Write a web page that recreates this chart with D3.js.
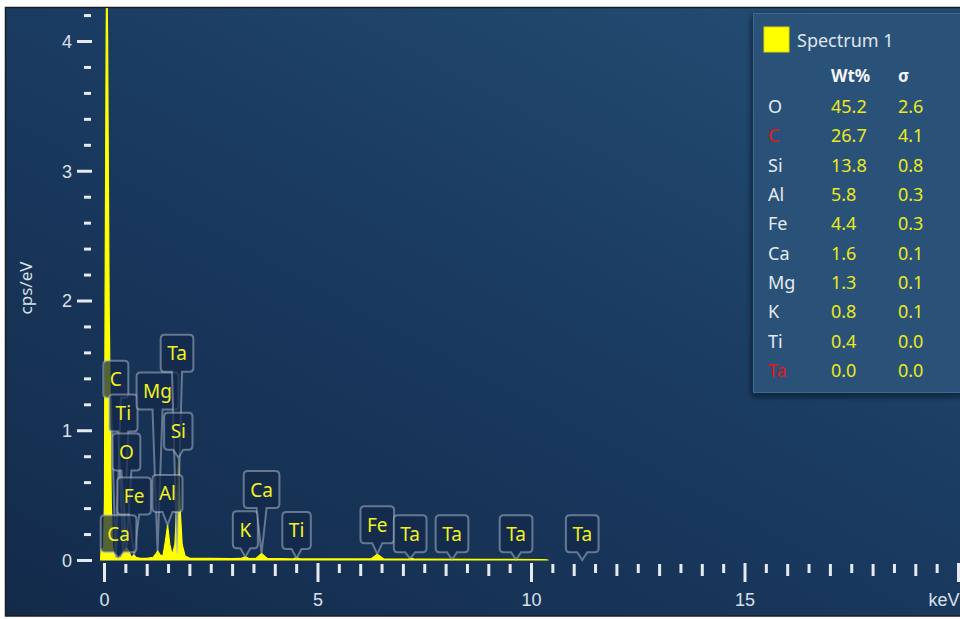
<!DOCTYPE html>
<html lang="en">
<head>
<meta charset="UTF-8">
<title>EDS Spectrum 1</title>
<script src="https://d3js.org/d3.v7.min.js"></script>
<style>
    body { margin: 0; background: #fff; }
    svg { display: block; font-family: "Noto Sans", "DejaVu Sans", sans-serif; }
    .tick line { stroke: #e4eaf0; stroke-width: 3; }
    .tick text { fill: #d9e1ea; font-size: 18px; }
    .tag text { fill: #f2f21e; font-size: 19px; }
</style>
</head>
<body>
<div id="chart"></div>
<script>
// spectrum trace, [keV, cps/eV]
const spectrum = [
    [-0.08, 0], [-0.07, 0.08], [-0.01, 0.09], [0.01, 0.45], [0.025, 2.0], [0.05, 4.0],
    [0.065, 4.6], [0.085, 4.0], [0.12, 2.0], [0.17, 0.45], [0.2, 0.1], [0.22, 0.07],
    [0.26, 0.02], [0.3, 0.015], [0.4, 0.02], [0.46, 0.06], [0.52, 0.095], [0.58, 0.07],
    [0.64, 0.02], [0.7, 0.04], [0.75, 0.02], [0.85, 0.012], [1.0, 0.012], [1.15, 0.02],
    [1.22, 0.05], [1.26, 0.07], [1.31, 0.04], [1.38, 0.03], [1.44, 0.15], [1.49, 0.27],
    [1.54, 0.12], [1.6, 0.04], [1.66, 0.12], [1.71, 0.45], [1.745, 0.78], [1.78, 0.42],
    [1.83, 0.12], [1.9, 0.03], [2.0, 0.015], [2.5, 0.012], [3.0, 0.01], [3.2, 0.012],
    [3.31, 0.025], [3.42, 0.01], [3.56, 0.012], [3.69, 0.05], [3.82, 0.012], [4.4, 0.008],
    [4.51, 0.016], [4.62, 0.008], [6.25, 0.008], [6.4, 0.045], [6.55, 0.008], [7.1, 0.006],
    [7.2, 0.012], [7.3, 0.006], [9.0, 0.005], [10.3, 0.003], [10.4, 0]
];

// peak labels
const tagNames = ["C", "Ti", "O", "Fe", "Ca", "Mg", "Ta", "Si", "Al", "K", "Ca", "Ti", "Fe", "Ta", "Ta", "Ta", "Ta"];
const tagKeV   = [0.277, 0.452, 0.525, 0.705, 0.341, 1.254, 1.71, 1.74, 1.487, 3.31, 3.69, 4.51, 6.40, 7.17, 8.15, 9.65, 11.2];
const tagPeak  = [0.02, 0.05, 0.09, 0.04, 0.02, 0.07, 0.05, 0.79, 0.27, 0.025, 0.05, 0.016, 0.045, 0.01, 0.004, 0.003, 0];
// where the label box sits (cps of its lower edge)
const tagLevel = [1.25, 0.99, 0.69, 0.35, 0.06, 1.16, 1.45, 0.85, 0.37, 0.09, 0.40, 0.085, 0.13, 0.06, 0.06, 0.06, 0.06];

// quant table
const elements = ["O", "C", "Si", "Al", "Fe", "Ca", "Mg", "K", "Ti", "Ta"];
const wtPct    = ["45.2", "26.7", "13.8", "5.8", "4.4", "1.6", "1.3", "0.8", "0.4", "0.0"];
const sigma    = ["2.6", "4.1", "0.8", "0.3", "0.3", "0.1", "0.1", "0.1", "0.0", "0.0"];
const flagged  = ["C", "Ta"];

const yMajor = [0, 1, 2, 3, 4];
const yMinor = [0.2, 0.4, 0.6, 0.8, 1.2, 1.4, 1.6, 1.8, 2.2, 2.4, 2.6, 2.8, 3.2, 3.4, 3.6, 3.8, 4.2];
const xMajor = [0, 5, 10, 15, 20];
const xMajorLabels = ["0", "5", "10", "15", "keV"];
const xInt  = [1, 2, 3, 4, 6, 7, 8, 9, 11, 12, 13, 14, 16, 17, 18, 19];
const xHalf = d3.range(0.5, 20, 1);

const W = 960, H = 619;
const svg = d3.select("#chart").append("svg").attr("width", W).attr("height", H);
const defs = svg.append("defs");

const bg = defs.append("linearGradient").attr("id", "bg")
    .attr("x1", 0).attr("y1", 1).attr("x2", 0.85).attr("y2", 0);
bg.append("stop").attr("offset", 0).attr("stop-color", "#132b4b");
bg.append("stop").attr("offset", 0.55).attr("stop-color", "#1a3a60");
bg.append("stop").attr("offset", 1).attr("stop-color", "#234c72");

defs.append("clipPath").attr("id", "plotClip")
    .append("rect").attr("x", 5).attr("y", 8).attr("width", 960).attr("height", 608);

const shadow = defs.append("filter").attr("id", "shadow")
    .attr("x", -0.1).attr("y", -0.1).attr("width", 1.3).attr("height", 1.3);
shadow.append("feDropShadow").attr("dx", -1).attr("dy", 3).attr("stdDeviation", 3)
    .attr("flood-color", "#050f1e").attr("flood-opacity", 0.7);

// frame
svg.append("rect").attr("x", 5.5).attr("y", 7.5).attr("width", 960).attr("height", 608.5)
    .attr("fill", "url(#bg)").attr("stroke", "#1c1c1c").attr("stroke-width", 1.5);

const x = d3.scaleLinear().domain([0, 20]).range([104, 958]);
const y = d3.scaleLinear().domain([0, 4]).range([560, 41]);

const plot = svg.append("g").attr("clip-path", "url(#plotClip)");

// spectrum
const area = d3.area()
    .x(d => x(d[0]))
    .y0(y(0))
    .y1(d => y(d[1]));

plot.append("path")
    .datum(spectrum)
    .attr("d", area)
    .attr("fill", "#ffff00")
    .attr("stroke", "#ffff00")
    .attr("stroke-width", 1.2)
    .attr("stroke-linejoin", "round");

// peak labels with pointer tails
const tags = tagNames.map((name, i) => ({name, keV: tagKeV[i], peak: tagPeak[i], level: tagLevel[i]}));

const tagG = plot.selectAll(".tag").data(tags).enter().append("g").attr("class", "tag");
const boxH = 37, r = 4, hw = 5;

tagG.each(function(d) {
    const g = d3.select(this);
    const cx = x(d.keV);
    const yb = y(d.level);
    const yt = yb - boxH;
    const t = g.append("text").text(d.name).attr("x", cx).attr("y", yt + boxH / 2 + 7)
        .attr("text-anchor", "middle");
    const tw = t.node().getComputedTextLength();
    const bw = Math.max(25, tw + 13);
    const x0 = cx - bw / 2, x1 = cx + bw / 2;
    const ty = Math.max(y(d.peak), yb + 6);
    const p = `M${x0 + r},${yt} H${x1 - r} Q${x1},${yt} ${x1},${yt + r} V${yb - r} Q${x1},${yb} ${x1 - r},${yb}` +
              ` H${cx + hw} L${cx},${ty} L${cx - hw},${yb} H${x0 + r} Q${x0},${yb} ${x0},${yb - r}` +
              ` V${yt + r} Q${x0},${yt} ${x0 + r},${yt} Z`;
    g.insert("path", "text").attr("d", p)
        .attr("fill", "#13284a").attr("fill-opacity", 0.72)
        .attr("stroke", "#b4c2d2").attr("stroke-opacity", 0.5).attr("stroke-width", 2);
});

// axes
function cleanAxis(g) { g.select(".domain").remove(); }

svg.append("g").attr("transform", "translate(92,0)")
    .call(d3.axisLeft(y).tickValues(yMajor).tickSize(15).tickPadding(5).tickFormat(d3.format("d")))
    .call(cleanAxis)
    .selectAll("text").attr("font-family", null).attr("font-size", null).attr("dy", "0.36em");

svg.append("g").attr("transform", "translate(91,0)")
    .call(d3.axisLeft(y).tickValues(yMinor).tickSize(7).tickFormat(""))
    .call(cleanAxis);

const xAxisY = 563;
const last = xMajorLabels.length - 1;
svg.append("g").attr("transform", `translate(0,${xAxisY})`)
    .call(d3.axisBottom(x).tickValues(xMajor).tickSize(19).tickPadding(11)
        .tickFormat((d, i) => xMajorLabels[i]))
    .call(cleanAxis)
    .selectAll("text").attr("font-family", null).attr("font-size", null)
    .attr("text-anchor", (d, i) => i === last ? "end" : "middle")
    .attr("dx", (d, i) => i === last ? 1 : 0);

svg.append("g").attr("transform", `translate(0,${xAxisY + 1})`)
    .call(d3.axisBottom(x).tickValues(xInt).tickSize(12).tickFormat(""))
    .call(cleanAxis);

svg.append("g").attr("transform", `translate(0,${xAxisY + 1})`)
    .call(d3.axisBottom(x).tickValues(xHalf).tickSize(9).tickFormat(""))
    .call(cleanAxis);

svg.append("text")
    .attr("transform", "translate(32,288) rotate(-90)")
    .attr("text-anchor", "middle")
    .attr("fill", "#d9e1ea")
    .attr("font-size", 17)
    .text("cps/eV");

// results panel
const panel = svg.append("g");
panel.append("rect").attr("x", 753.5).attr("y", 13.5).attr("width", 220).attr("height", 379)
    .attr("fill", "#2c5177").attr("stroke", "#42688c").attr("stroke-width", 1)
    .attr("filter", "url(#shadow)");

panel.append("rect").attr("x", 764).attr("y", 27).attr("width", 25).attr("height", 25)
    .attr("fill", "#ffff00").attr("stroke", "#d8d800").attr("stroke-width", 1);
panel.append("text").attr("x", 797).attr("y", 47).attr("fill", "#dfe6ee").attr("font-size", 18)
    .text("Spectrum 1");
panel.append("text").attr("x", 831).attr("y", 82).attr("fill", "#f2f5f8").attr("font-size", 17)
    .attr("font-weight", "bold").text("Wt%");
panel.append("text").attr("x", 898).attr("y", 82).attr("fill", "#f2f5f8").attr("font-size", 17)
    .attr("font-weight", "bold").text("σ");

const rowY = d3.scalePoint().domain(elements).range([113, 377]);
const rows = panel.selectAll(".row").data(elements).enter().append("g").attr("class", "row")
    .attr("transform", d => `translate(0,${rowY(d)})`);
rows.append("text").attr("x", 768).attr("font-size", 18)
    .attr("fill", d => flagged.includes(d) ? "#e01a1a" : "#e4eaf0").text(d => d);
rows.append("text").attr("x", 831).attr("font-size", 18).attr("fill", "#eaea1e")
    .text((d, i) => wtPct[i]);
rows.append("text").attr("x", 898).attr("font-size", 18).attr("fill", "#eaea1e")
    .text((d, i) => sigma[i]);
</script>
</body>
</html>
